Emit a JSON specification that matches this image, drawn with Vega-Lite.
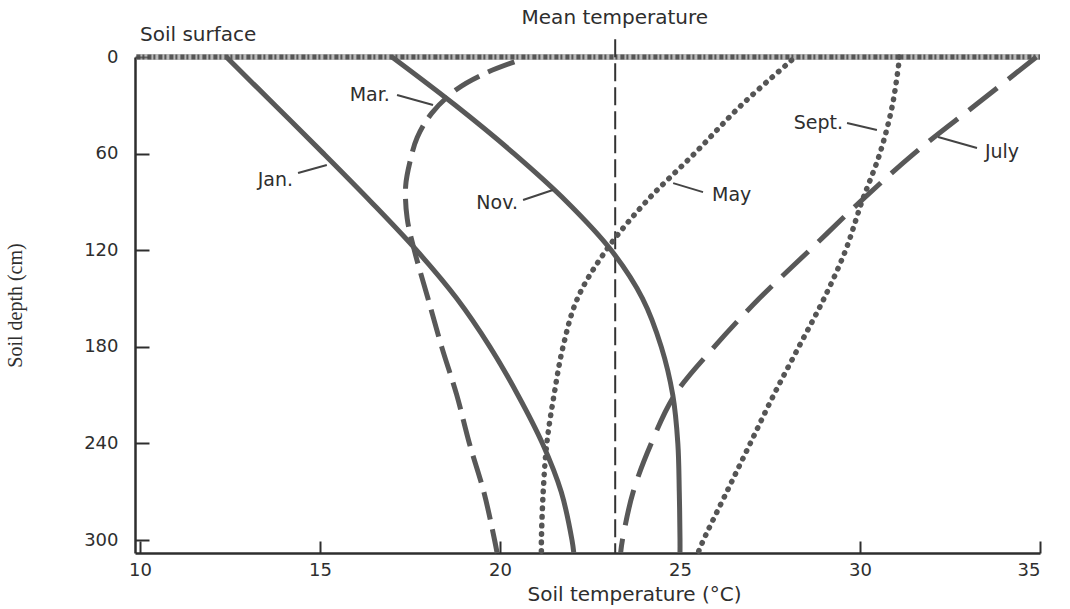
{
  "$schema": "https://vega.github.io/schema/vega-lite/v6.json",
  "width": 905,
  "height": 496,
  "autosize": {"type": "none"},
  "padding": {"left": 135, "top": 57, "right": 30, "bottom": 56},
  "background": "white",
  "config": {
    "view": {"stroke": null},
    "axis": {
      "grid": false,
      "domainColor": "#2e2e2e",
      "domainWidth": 2.5,
      "tickColor": "#2e2e2e",
      "tickWidth": 2,
      "labelFont": "DejaVu Sans",
      "labelFontSize": 18,
      "labelColor": "#2e2e2e",
      "titleColor": "#2e2e2e"
    }
  },
  "datasets": {
    "curves": [
      {"month": "Jan.", "style": "solid", "depth": 0, "temp": 12.4},
      {"month": "Jan.", "style": "solid", "depth": 30, "temp": 13.75},
      {"month": "Jan.", "style": "solid", "depth": 60, "temp": 15.1},
      {"month": "Jan.", "style": "solid", "depth": 90, "temp": 16.42},
      {"month": "Jan.", "style": "solid", "depth": 120, "temp": 17.68},
      {"month": "Jan.", "style": "solid", "depth": 150, "temp": 18.8},
      {"month": "Jan.", "style": "solid", "depth": 180, "temp": 19.72},
      {"month": "Jan.", "style": "solid", "depth": 210, "temp": 20.5},
      {"month": "Jan.", "style": "solid", "depth": 240, "temp": 21.18},
      {"month": "Jan.", "style": "solid", "depth": 270, "temp": 21.7},
      {"month": "Jan.", "style": "solid", "depth": 300, "temp": 22.0},
      {"month": "Jan.", "style": "solid", "depth": 308, "temp": 22.05},
      {"month": "Mar.", "style": "solid", "depth": 0, "temp": 17.0},
      {"month": "Mar.", "style": "solid", "depth": 30, "temp": 18.76},
      {"month": "Mar.", "style": "solid", "depth": 60, "temp": 20.39},
      {"month": "Mar.", "style": "solid", "depth": 90, "temp": 21.86},
      {"month": "Mar.", "style": "solid", "depth": 120, "temp": 23.09},
      {"month": "Mar.", "style": "solid", "depth": 150, "temp": 23.96},
      {"month": "Mar.", "style": "solid", "depth": 180, "temp": 24.48},
      {"month": "Mar.", "style": "solid", "depth": 210, "temp": 24.8},
      {"month": "Mar.", "style": "solid", "depth": 240, "temp": 24.94},
      {"month": "Mar.", "style": "solid", "depth": 270, "temp": 24.98},
      {"month": "Mar.", "style": "solid", "depth": 300, "temp": 25.0},
      {"month": "Mar.", "style": "solid", "depth": 308, "temp": 25.0},
      {"month": "Nov.", "style": "dashed", "depth": 3, "temp": 20.4},
      {"month": "Nov.", "style": "dashed", "depth": 10, "temp": 19.6},
      {"month": "Nov.", "style": "dashed", "depth": 20, "temp": 18.8},
      {"month": "Nov.", "style": "dashed", "depth": 35, "temp": 18.1},
      {"month": "Nov.", "style": "dashed", "depth": 50, "temp": 17.7},
      {"month": "Nov.", "style": "dashed", "depth": 65, "temp": 17.5},
      {"month": "Nov.", "style": "dashed", "depth": 80, "temp": 17.38},
      {"month": "Nov.", "style": "dashed", "depth": 100, "temp": 17.42},
      {"month": "Nov.", "style": "dashed", "depth": 120, "temp": 17.62},
      {"month": "Nov.", "style": "dashed", "depth": 150, "temp": 18.0},
      {"month": "Nov.", "style": "dashed", "depth": 180, "temp": 18.38},
      {"month": "Nov.", "style": "dashed", "depth": 210, "temp": 18.8},
      {"month": "Nov.", "style": "dashed", "depth": 240, "temp": 19.15},
      {"month": "Nov.", "style": "dashed", "depth": 270, "temp": 19.55},
      {"month": "Nov.", "style": "dashed", "depth": 300, "temp": 19.85},
      {"month": "Nov.", "style": "dashed", "depth": 308, "temp": 19.92},
      {"month": "July", "style": "dashed", "depth": 0, "temp": 34.9},
      {"month": "July", "style": "dashed", "depth": 30, "temp": 33.2},
      {"month": "July", "style": "dashed", "depth": 60, "temp": 31.5},
      {"month": "July", "style": "dashed", "depth": 90, "temp": 30.0},
      {"month": "July", "style": "dashed", "depth": 120, "temp": 28.6},
      {"month": "July", "style": "dashed", "depth": 150, "temp": 27.2},
      {"month": "July", "style": "dashed", "depth": 180, "temp": 25.95},
      {"month": "July", "style": "dashed", "depth": 210, "temp": 24.85},
      {"month": "July", "style": "dashed", "depth": 240, "temp": 24.2},
      {"month": "July", "style": "dashed", "depth": 270, "temp": 23.7},
      {"month": "July", "style": "dashed", "depth": 300, "temp": 23.4},
      {"month": "July", "style": "dashed", "depth": 308, "temp": 23.35},
      {"month": "May", "style": "dotted", "depth": 2, "temp": 28.1},
      {"month": "May", "style": "dotted", "depth": 30, "temp": 26.7},
      {"month": "May", "style": "dotted", "depth": 60, "temp": 25.4},
      {"month": "May", "style": "dotted", "depth": 90, "temp": 24.05},
      {"month": "May", "style": "dotted", "depth": 120, "temp": 22.95},
      {"month": "May", "style": "dotted", "depth": 150, "temp": 22.15},
      {"month": "May", "style": "dotted", "depth": 180, "temp": 21.75},
      {"month": "May", "style": "dotted", "depth": 210, "temp": 21.5},
      {"month": "May", "style": "dotted", "depth": 240, "temp": 21.3},
      {"month": "May", "style": "dotted", "depth": 270, "temp": 21.2},
      {"month": "May", "style": "dotted", "depth": 300, "temp": 21.15},
      {"month": "May", "style": "dotted", "depth": 308, "temp": 21.15},
      {"month": "Sept.", "style": "dotted", "depth": 0, "temp": 31.1},
      {"month": "Sept.", "style": "dotted", "depth": 30, "temp": 30.9},
      {"month": "Sept.", "style": "dotted", "depth": 60, "temp": 30.55},
      {"month": "Sept.", "style": "dotted", "depth": 90, "temp": 30.05},
      {"month": "Sept.", "style": "dotted", "depth": 120, "temp": 29.6},
      {"month": "Sept.", "style": "dotted", "depth": 150, "temp": 29.0},
      {"month": "Sept.", "style": "dotted", "depth": 180, "temp": 28.3},
      {"month": "Sept.", "style": "dotted", "depth": 210, "temp": 27.6},
      {"month": "Sept.", "style": "dotted", "depth": 240, "temp": 26.95},
      {"month": "Sept.", "style": "dotted", "depth": 270, "temp": 26.3},
      {"month": "Sept.", "style": "dotted", "depth": 300, "temp": 25.65},
      {"month": "Sept.", "style": "dotted", "depth": 308, "temp": 25.5}
    ],
    "leaders": [
      {"month": "Jan.", "temp": 14.39, "depth": 72, "temp2": 15.19, "depth2": 67.1},
      {"month": "Mar.", "temp": 17.14, "depth": 23.6, "temp2": 18.14, "depth2": 29.8},
      {"month": "Nov.", "temp": 20.64, "depth": 88.8, "temp2": 21.47, "depth2": 82.6},
      {"month": "May", "temp": 24.81, "depth": 78.3, "temp2": 25.64, "depth2": 83.9},
      {"month": "Sept.", "temp": 29.64, "depth": 41, "temp2": 30.47, "depth2": 45.3},
      {"month": "July", "temp": 32.17, "depth": 49.7, "temp2": 33.25, "depth2": 56.5}
    ],
    "labels": [
      {"label": "Jan.", "anchor": "right", "size": 19, "temp": 14.25, "depth": 76.4},
      {"label": "Mar.", "anchor": "right", "size": 19, "temp": 16.94, "depth": 23.6},
      {"label": "Nov.", "anchor": "right", "size": 19, "temp": 20.5, "depth": 90.7},
      {"label": "Sept.", "anchor": "right", "size": 19, "temp": 29.53, "depth": 41},
      {"label": "May", "anchor": "left", "size": 19, "temp": 25.89, "depth": 85.7},
      {"label": "July", "anchor": "left", "size": 19, "temp": 33.47, "depth": 59},
      {"label": "Soil surface", "anchor": "left", "size": 20, "temp": 10.0, "depth": -13.7},
      {"label": "Mean temperature", "anchor": "center", "size": 20, "temp": 23.19, "depth": -24.2}
    ],
    "surface": [{"temp": 9.9, "temp2": 35, "depth": 0}],
    "mean": [{"temp": 23.2, "depth": -11, "depth2": 308}]
  },
  "encoding": {
    "x": {
      "field": "temp",
      "type": "quantitative",
      "scale": {"domain": [9.861, 35], "nice": false, "zero": false},
      "axis": {
        "values": [10, 15, 20, 25, 30, 35],
        "tickSize": -12,
        "labelPadding": 20,
        "title": "Soil temperature (°C)",
        "titleFont": "DejaVu Sans",
        "titleFontSize": 20,
        "titleFontWeight": "normal",
        "titleX": 499,
        "titleY": 31,
        "titleBaseline": "top"
      }
    },
    "y": {
      "field": "depth",
      "type": "quantitative",
      "scale": {"domain": [0, 308], "reverse": true, "nice": false, "zero": false},
      "axis": {
        "values": [0, 60, 120, 180, 240, 300],
        "tickSize": -14,
        "labelPadding": 31,
        "title": "Soil depth (cm)",
        "titleFont": "Liberation Serif",
        "titleFontSize": 20,
        "titleFontWeight": "normal",
        "titleX": -120,
        "titleY": 248,
        "titleBaseline": "middle",
        "titleAngle": -90,
        "titleAlign": "center"
      }
    }
  },
  "layer": [
    {
      "data": {"name": "surface"},
      "mark": {"type": "rule", "color": "#8a8a8a", "strokeWidth": 6, "opacity": 0.6},
      "encoding": {"x2": {"field": "temp2"}}
    },
    {
      "data": {"name": "surface"},
      "mark": {"type": "rule", "color": "#444444", "strokeWidth": 5, "strokeDash": [4, 2, 2, 3], "opacity": 0.85},
      "encoding": {"x2": {"field": "temp2"}}
    },
    {
      "data": {"name": "mean"},
      "mark": {"type": "rule", "color": "#333333", "strokeWidth": 2, "strokeDash": [18, 6]},
      "encoding": {"y2": {"field": "depth2"}}
    },
    {
      "data": {"name": "curves"},
      "transform": [{"filter": "datum.style === 'solid'"}],
      "mark": {"type": "line", "color": "#585858", "strokeWidth": 5, "interpolate": "catmull-rom"},
      "encoding": {"detail": {"field": "month"}, "order": {"field": "depth", "type": "quantitative"}}
    },
    {
      "data": {"name": "curves"},
      "transform": [{"filter": "datum.month === 'Nov.'"}],
      "mark": {"type": "line", "color": "#585858", "strokeWidth": 5, "strokeDash": [28, 10], "interpolate": "catmull-rom"},
      "encoding": {"detail": {"field": "month"}, "order": {"field": "depth", "type": "quantitative"}}
    },
    {
      "data": {"name": "curves"},
      "transform": [{"filter": "datum.month === 'July'"}],
      "mark": {"type": "line", "color": "#585858", "strokeWidth": 5, "strokeDash": [36, 14], "interpolate": "catmull-rom"},
      "encoding": {"detail": {"field": "month"}, "order": {"field": "depth", "type": "quantitative"}}
    },
    {
      "data": {"name": "curves"},
      "transform": [{"filter": "datum.style === 'dotted'"}],
      "mark": {"type": "line", "color": "#555555", "strokeWidth": 5.5, "strokeDash": [0.5, 8], "strokeCap": "round", "interpolate": "catmull-rom"},
      "encoding": {"detail": {"field": "month"}, "order": {"field": "depth", "type": "quantitative"}}
    },
    {
      "data": {"name": "leaders"},
      "mark": {"type": "rule", "color": "#444444", "strokeWidth": 2},
      "encoding": {"x2": {"field": "temp2"}, "y2": {"field": "depth2"}}
    },
    {
      "data": {"name": "labels"},
      "transform": [{"filter": "datum.anchor === 'right'"}],
      "mark": {"type": "text", "align": "right", "baseline": "middle", "font": "DejaVu Sans", "fontSize": 19, "color": "#2e2e2e"},
      "encoding": {"text": {"field": "label"}}
    },
    {
      "data": {"name": "labels"},
      "transform": [{"filter": "datum.anchor === 'left'"}],
      "mark": {"type": "text", "align": "left", "baseline": "middle", "font": "DejaVu Sans", "color": "#2e2e2e"},
      "encoding": {"text": {"field": "label"}, "size": {"field": "size", "type": "quantitative", "scale": null}}
    },
    {
      "data": {"name": "labels"},
      "transform": [{"filter": "datum.anchor === 'center'"}],
      "mark": {"type": "text", "align": "center", "baseline": "middle", "font": "DejaVu Sans", "fontSize": 20, "color": "#2e2e2e"},
      "encoding": {"text": {"field": "label"}}
    }
  ]
}
